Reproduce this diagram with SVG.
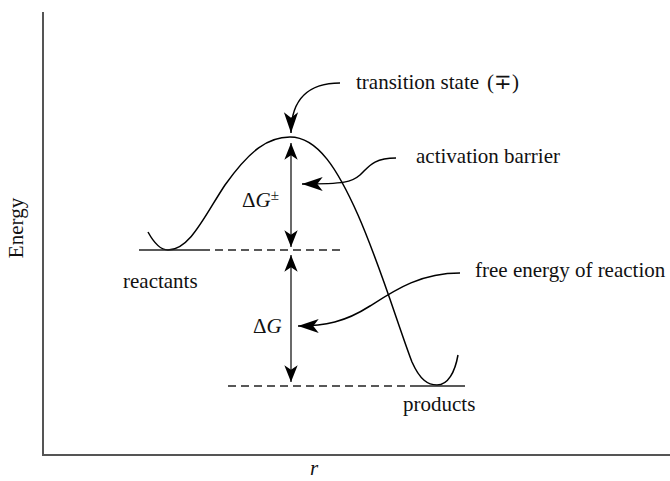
<svg xmlns="http://www.w3.org/2000/svg" width="670" height="481" viewBox="0 0 670 481">
<defs>
<style>
text{font-family:"Liberation Serif","Times New Roman",serif;font-size:21px;fill:#111}
.ax{stroke:#555;stroke-width:2;fill:none}
.curve{stroke:#000;stroke-width:1.5;fill:none}
.lvl{stroke:#222;stroke-width:1.5;fill:none}
.dash{stroke:#222;stroke-width:1.5;fill:none;stroke-dasharray:8 5}
.dbl{stroke:#444;stroke-width:1.6;fill:none;marker-start:url(#ah);marker-end:url(#ah)}
.call{stroke:#000;stroke-width:1.5;fill:none;marker-end:url(#ahc)}
</style>
<marker id="ah" markerUnits="userSpaceOnUse" markerWidth="20" markerHeight="20" viewBox="-16 -7 18 14" refX="0" refY="0" orient="auto-start-reverse">
<path d="M0,0 L-15,-6 L-11,0 L-15,6 Z" fill="#000"/>
</marker>
<marker id="ahc" markerUnits="userSpaceOnUse" markerWidth="24" markerHeight="20" viewBox="-20 -7 22 14" refX="0" refY="0" orient="auto">
<path d="M0,0 L-19,-6.5 L-14,0 L-19,6.5 Z" fill="#000"/>
</marker>
</defs>

<g id="axes">
<path class="ax" d="M43,12 L43,455 L670,455"/>
<text transform="translate(23,228) rotate(-90)" text-anchor="middle">Energy</text>
<text x="314" y="475" text-anchor="middle" font-style="italic">r</text>
</g>

<g id="energy-curve">
<path class="curve" d="M148,232 C154,243 160,250 168,250 C190,250 205,215 225,185 C250,150 268,137 290,137 C318,137 338,170 358,215 C380,265 398,325 412,362 C420,380 428,385 437,385 C448,385 455,372 458,355"/>
</g>

<g id="reactants">
<path class="lvl" d="M139,250 L202,250"/>
<path class="dash" d="M202,250 L345,250"/>
<text x="123" y="288">reactants</text>
</g>

<g id="products">
<path class="dash" d="M228,386 L410,386"/>
<path class="lvl" d="M410,386 L465,386"/>
<text x="403" y="411">products</text>
</g>

<g id="dG-barrier">
<text x="242" y="207">Δ<tspan font-style="italic">G</tspan><tspan font-size="15" dy="-7">±</tspan></text>
</g>
<g id="dG-reaction">
<text x="253" y="333">Δ<tspan font-style="italic">G</tspan></text>
</g>

<g id="transition-state-label">
<text x="356" y="89">transition state<tspan x="487">(∓)</tspan></text>
</g>
<g id="activation-label">
<text x="416" y="163">activation barrier</text>
</g>
<g id="free-energy-label">
<text x="475" y="277">free energy of reaction</text>
</g>

<g id="connectors">
<path class="dbl" d="M291,143 L291,247"/>
<path class="dbl" d="M291,255 L291,382"/>
<path class="call" d="M340,83 C310,83 291,98 291,133"/>
<path class="call" d="M396,158 C372,158 368,168 360,175 C352,182 345,184 302,184"/>
<path class="call" d="M460,273 C420,273 395,290 370,306 C345,322 325,326 298,326"/>
</g>
</svg>
